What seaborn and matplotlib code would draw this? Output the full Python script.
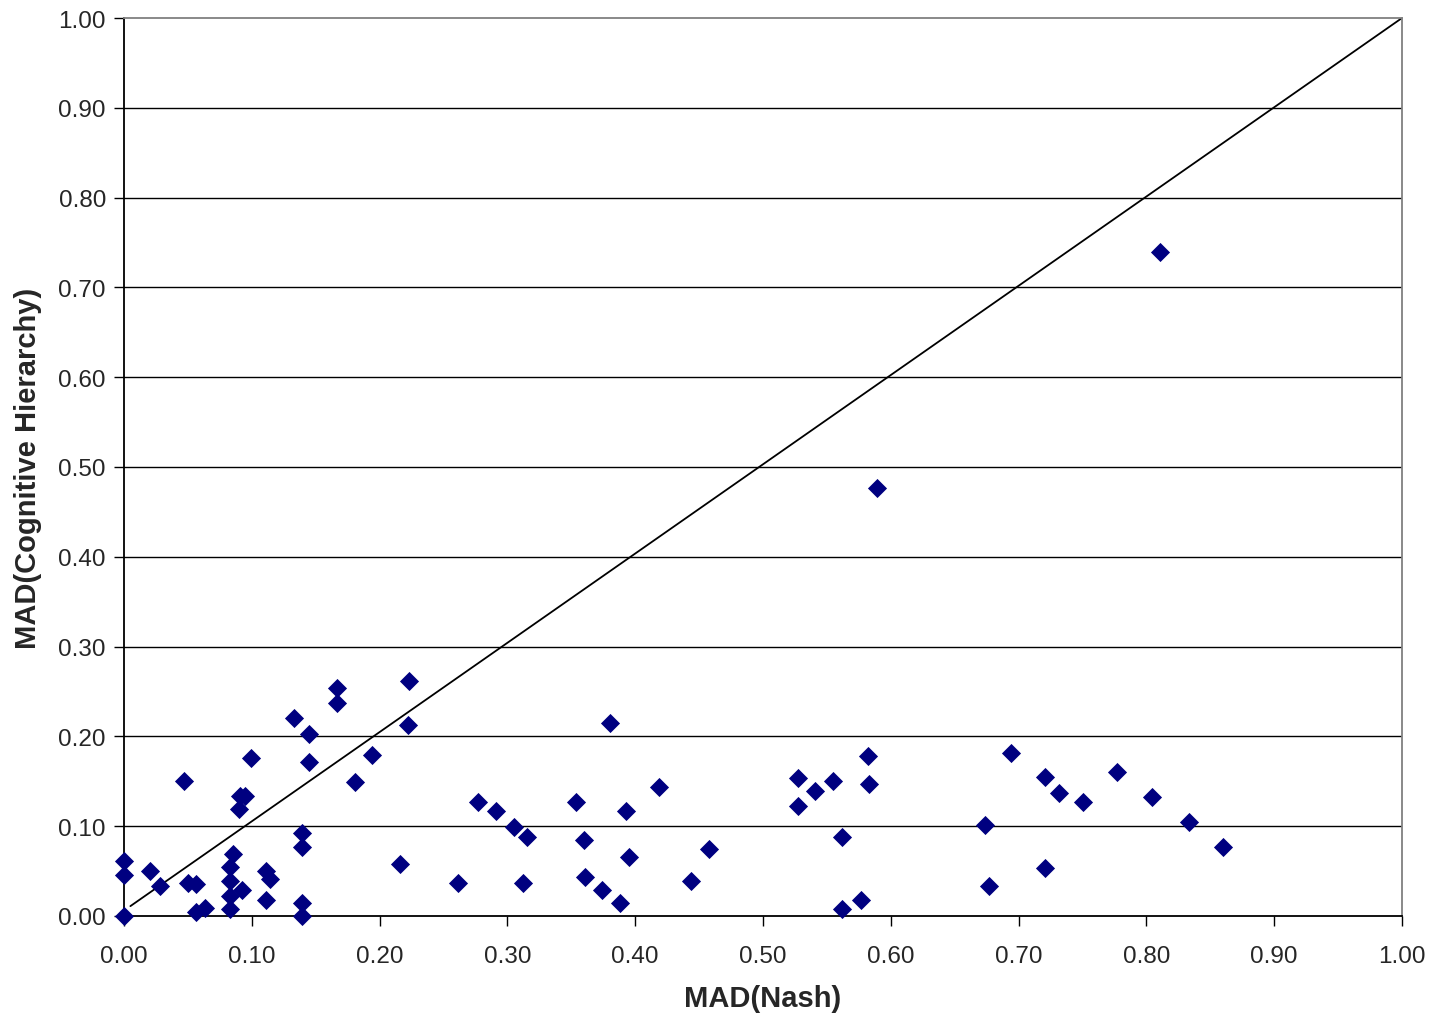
import numpy as np
import pandas as pd
import matplotlib
matplotlib.use('Agg')
import matplotlib.pyplot as plt
import seaborn as sns


# MAD values per game
mad_nash = [
    0.000, 0.000, 0.000, 0.020, 0.028, 0.047, 0.050, 0.056, 0.056, 0.063,
    0.083, 0.083, 0.085, 0.083, 0.083, 0.092, 0.090, 0.091, 0.095, 0.099,
    0.111, 0.114, 0.111, 0.133, 0.139, 0.139, 0.139, 0.139, 0.145, 0.145,
    0.167, 0.167, 0.181, 0.194, 0.216, 0.222, 0.223, 0.261, 0.277, 0.291,
    0.305, 0.312, 0.315, 0.354, 0.360, 0.361, 0.374, 0.380, 0.388, 0.393,
    0.395, 0.419, 0.444, 0.458, 0.527, 0.527, 0.541, 0.555, 0.562, 0.562,
    0.577, 0.582, 0.583, 0.589, 0.674, 0.677, 0.694, 0.721, 0.721, 0.732,
    0.750, 0.777, 0.804, 0.811, 0.833, 0.860,
]
mad_ch = [
    0.061, 0.046, 0.000, 0.050, 0.033, 0.150, 0.037, 0.036, 0.005, 0.009,
    0.055, 0.039, 0.069, 0.022, 0.008, 0.029, 0.119, 0.134, 0.134, 0.176,
    0.050, 0.041, 0.018, 0.220, 0.092, 0.077, 0.015, 0.000, 0.203, 0.171,
    0.254, 0.237, 0.149, 0.179, 0.058, 0.213, 0.262, 0.037, 0.127, 0.117,
    0.099, 0.037, 0.088, 0.127, 0.085, 0.043, 0.029, 0.215, 0.015, 0.117,
    0.066, 0.144, 0.039, 0.075, 0.154, 0.122, 0.139, 0.150, 0.088, 0.008,
    0.018, 0.178, 0.147, 0.477, 0.101, 0.033, 0.182, 0.155, 0.053, 0.137,
    0.127, 0.160, 0.133, 0.739, 0.105, 0.077,
]

# reference diagonal
diag_x = [0.005, 1.0]
diag_y = [0.011, 1.0]

ticks = [0.0, 0.1, 0.2, 0.3, 0.4, 0.5, 0.6, 0.7, 0.8, 0.9, 1.0]
tick_labels = [f'{t:.2f}' for t in ticks]

df = pd.DataFrame({'nash': mad_nash, 'ch': mad_ch})

sns.set_style('white')
plt.rcParams['font.family'] = ['Liberation Sans', 'DejaVu Sans']

fig = plt.figure(figsize=(14.34, 10.2), dpi=100)
ax = fig.add_axes([124 / 1434, 103 / 1020, 1278 / 1434, 898 / 1020])

ax.set_xlim(0, 1)
ax.set_ylim(0, 1)
for t in ticks[1:-1]:
    ax.axhline(t, color='black', lw=1.0, zorder=1)

ax.plot(diag_x, diag_y, color='black', lw=1.3, zorder=2)

sns.scatterplot(data=df, x='nash', y='ch', marker='D', s=95,
                color='#000080', edgecolor='#000080', linewidth=0,
                ax=ax, zorder=3, clip_on=False)

ax.set_xticks(ticks)
ax.set_xticklabels(tick_labels)
ax.set_yticks(ticks)
ax.set_yticklabels(tick_labels)
ax.tick_params(axis='both', direction='out', length=7, width=1.0,
               color='black', labelsize=17.5, pad=6, left=True, bottom=True)
ax.tick_params(axis='x', pad=14)

for side in ['left', 'bottom']:
    ax.spines[side].set_color('black')
    ax.spines[side].set_linewidth(1.3)
for side in ['top', 'right']:
    ax.spines[side].set_visible(True)
    ax.spines[side].set_color('#808080')
    ax.spines[side].set_linewidth(1.3)

ax.set_xlabel('MAD(Nash)', fontsize=21, fontweight='bold', labelpad=12)
ax.set_ylabel('MAD(Cognitive Hierarchy)', fontsize=21, fontweight='bold', labelpad=12)

fig.savefig('out.png', dpi=100)
